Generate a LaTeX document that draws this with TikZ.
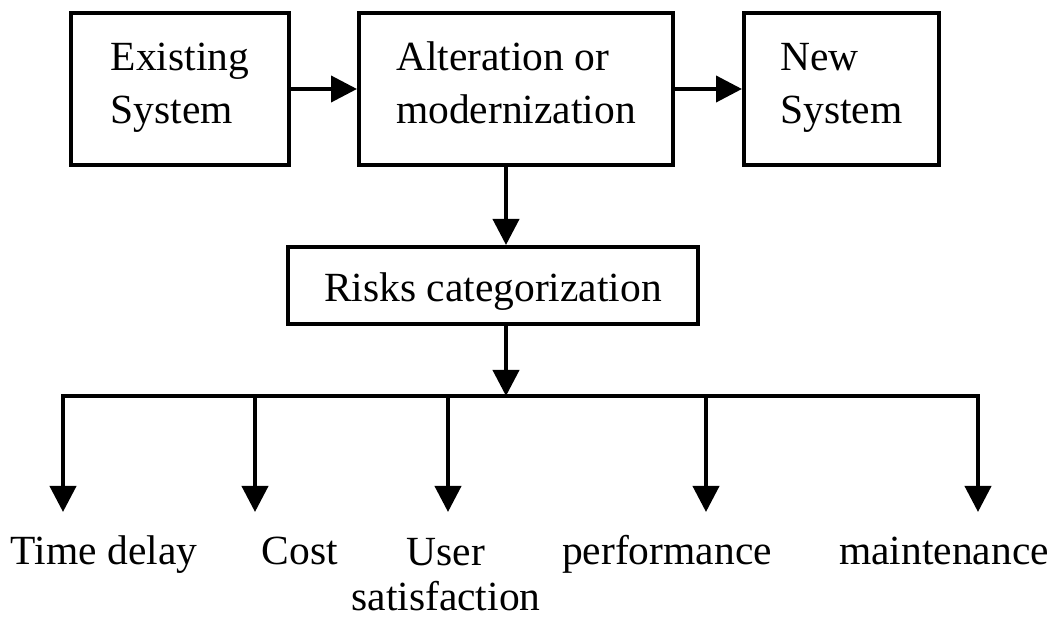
\documentclass[tikz,border=0pt]{standalone}
\usepackage{fontspec}
\setmainfont{Liberation Serif}
\usetikzlibrary{arrows.meta}
\begin{document}
\begin{tikzpicture}[x=1pt,y=-1pt,
  box/.style={draw, line width=4pt, inner sep=0pt, align=left,
    font=\fontsize{41.5}{53}\selectfont},
  twoline/.style={text height=70pt, text depth=0pt},
  flow/.style={line width=4pt, -{Triangle[length=26pt,width=26pt]}},
  bus/.style={line width=4pt, line cap=rect},
  label/.style={anchor=base, inner sep=0pt, align=center,
    font=\fontsize{41.5}{45}\selectfont}]
  % page
  \fill[white] (0,0) rectangle (1053,617);
  \useasboundingbox (0,0) rectangle (1053,617);

  % top row
  \node[box, twoline, minimum width=218pt, minimum height=152pt] (exist) at (180,89)
    {Existing\\System};
  \node[box, twoline, minimum width=314pt, minimum height=152pt] (alter) at (516,89)
    {Alteration or\\modernization};
  \node[box, twoline, minimum width=195pt, minimum height=152pt] (new) at (841.5,89)
    {New\\System};
  \node[box, minimum width=410pt, minimum height=77pt,
        text height=33pt, text depth=0pt] (risk) at (493,285.5)
    {Risks categorization};

  % distribution bus
  \coordinate (hub) at (506,396);
  \coordinate (bL) at (63,396);
  \coordinate (bR) at (978,396);

  \draw[flow] (exist.east) -- (alter.west);
  \draw[flow] (alter.east) -- (new.west);
  \draw[flow] (alter.south -| hub) -- (risk.north -| hub);
  \draw[flow] (risk.south -| hub) -- (hub);
  \draw[bus] (bL) -- (bR);

  \foreach \n/\x in {1/63, 2/255, 3/448, 4/706, 5/978} {
    \coordinate (b\n) at (\x,396);
    \coordinate (t\n) at (\x,512);
    \draw[flow] (b\n) -- (t\n);
  }

  % risk categories
  \node[label] (l1) at (104,565) {Time delay};
  \node[label] (l2) at (300,565) {Cost};
  \node[label] (l3) at (446,610) {User\\satisfaction};
  \node[label] (l4) at (667,565) {performance};
  \node[label] (l5) at (944,565) {maintenance};
\end{tikzpicture}
\end{document}
